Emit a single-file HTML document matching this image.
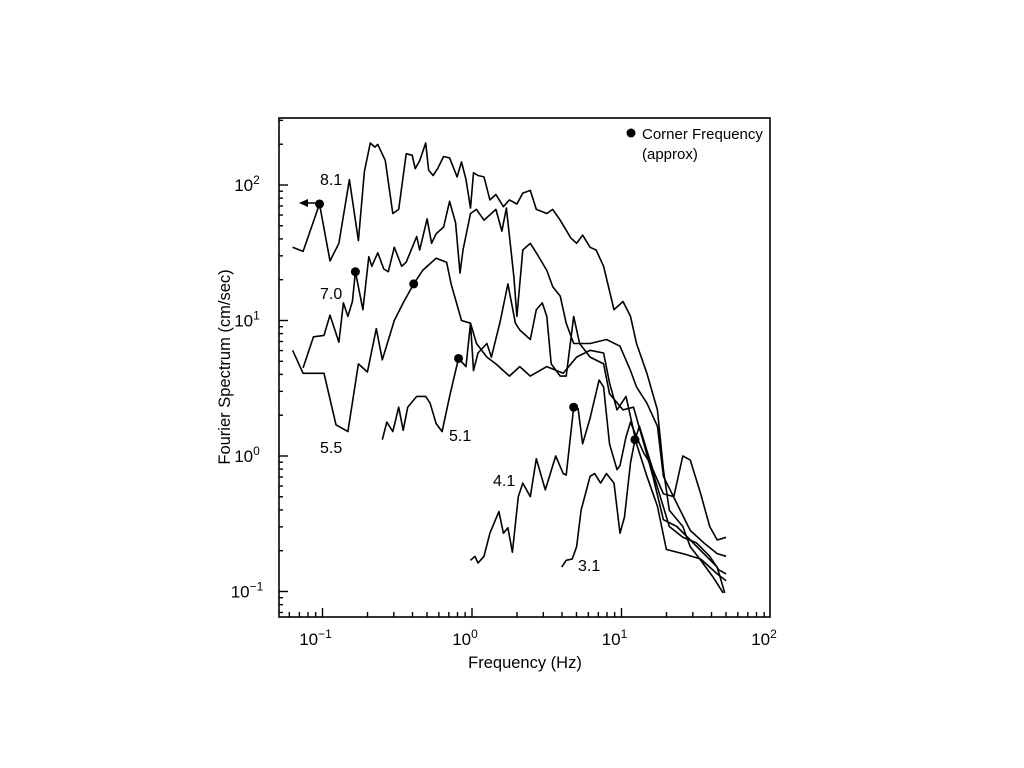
<!DOCTYPE html>
<html><head><meta charset="utf-8"><style>
html,body{margin:0;padding:0;background:#fff;}
svg{display:block;font-family:"Liberation Sans",sans-serif;}
</style></head><body>
<svg id="chart" width="1024" height="768" viewBox="0 0 1024 768" xmlns="http://www.w3.org/2000/svg">
<rect x="0" y="0" width="1024" height="768" fill="#fff"/>
<rect x="279" y="118" width="491" height="499" fill="none" stroke="#000" stroke-width="1.6"/>
<g id="ticks"></g>
<g id="series" fill="none" stroke="#000" stroke-width="1.6" stroke-linejoin="round"></g>
<g id="dots"></g>
<line x1="318" y1="203" x2="306" y2="203" stroke="#000" stroke-width="1.5"/>
<polygon points="299,203 308,199 308,207" fill="#000"/>
<text x="525" y="668" font-size="16.5" text-anchor="middle">Frequency (Hz)</text>
<text transform="translate(230,367) rotate(-90)" font-size="16.5" text-anchor="middle">Fourier Spectrum (cm/sec)</text>
<circle cx="631" cy="133" r="4.5" fill="#000"/>
<text x="642" y="139" font-size="15">Corner Frequency</text>
<text x="642" y="159" font-size="15">(approx)</text>
<text x="320" y="185" font-size="16">8.1</text>
<text x="320" y="299" font-size="16">7.0</text>
<text x="320" y="453" font-size="16">5.5</text>
<text x="449" y="441" font-size="16">5.1</text>
<text x="493" y="486" font-size="16">4.1</text>
<text x="578" y="571" font-size="16">3.1</text>
</svg>
<script>
// log10(frequency Hz) and log10(amplitude cm/sec) per magnitude
const logF81=[-1.20,-1.13,-1.02,-0.95,-0.89,-0.82,-0.76,-0.72,-0.68,-0.65,-0.63,-0.58,-0.53,-0.49,-0.44,-0.40,-0.38,-0.35,-0.31,-0.29,-0.26,-0.23,-0.19,-0.15,-0.10,-0.07,-0.04,-0.01,0.01,0.04,0.08,0.12,0.16,0.21,0.25,0.30,0.34,0.39,0.43,0.50,0.54,0.59,0.66,0.70,0.74,0.79,0.83,0.88,0.95,1.01,1.06,1.10,1.17,1.24,1.28,1.32,1.41,1.46,1.53,1.61,1.68];
const logA81=[1.54,1.51,1.86,1.44,1.57,2.04,1.59,2.10,2.31,2.28,2.30,2.18,1.79,1.82,2.23,2.22,2.12,2.18,2.31,2.11,2.07,2.12,2.21,2.20,2.06,2.17,2.04,1.83,2.09,2.07,2.06,1.89,1.93,1.84,1.89,1.86,1.94,1.96,1.82,1.79,1.82,1.74,1.61,1.57,1.63,1.54,1.52,1.40,1.08,1.14,1.03,0.83,0.61,0.34,-0.10,-0.40,-0.52,-0.67,-0.77,-0.89,-1.01];
const logF70=[-1.13,-1.06,-0.99,-0.95,-0.89,-0.86,-0.83,-0.80,-0.78,-0.73,-0.69,-0.67,-0.63,-0.59,-0.56,-0.52,-0.47,-0.44,-0.37,-0.35,-0.30,-0.27,-0.24,-0.19,-0.15,-0.11,-0.08,-0.06,-0.01,0.03,0.08,0.16,0.20,0.23,0.28,0.30,0.34,0.39,0.43,0.50,0.54,0.59,0.63,0.68,0.79,0.90,0.99,1.06,1.10,1.17,1.24,1.28,1.37,1.46,1.55,1.64,1.70];
const logA70=[0.65,0.88,0.89,1.04,0.84,1.13,1.03,1.14,1.36,1.08,1.47,1.40,1.50,1.38,1.36,1.54,1.40,1.43,1.62,1.52,1.75,1.57,1.64,1.69,1.88,1.72,1.35,1.52,1.79,1.82,1.74,1.82,1.66,1.83,1.32,1.03,1.52,1.57,1.50,1.37,1.25,1.18,0.98,0.83,0.83,0.86,0.81,0.63,0.51,0.39,0.22,-0.15,-0.35,-0.55,-0.64,-0.72,-0.74];
const logF55=[-1.20,-1.13,-0.99,-0.91,-0.83,-0.76,-0.70,-0.64,-0.60,-0.52,-0.46,-0.39,-0.33,-0.24,-0.17,-0.14,-0.07,-0.01,0.03,0.10,0.16,0.25,0.32,0.39,0.50,0.61,0.70,0.79,0.88,0.92,0.97,1.03,1.10,1.17,1.24,1.30,1.41,1.53,1.64,1.70];
const logA55=[0.78,0.61,0.61,0.23,0.18,0.68,0.62,0.94,0.71,1.00,1.13,1.27,1.37,1.46,1.43,1.27,1.00,0.98,0.83,0.73,0.68,0.59,0.66,0.59,0.66,0.61,0.73,0.78,0.76,0.54,0.34,0.44,0.09,-0.15,-0.37,-0.69,-0.72,-0.76,-0.87,-0.92];
const logF51=[-0.60,-0.57,-0.53,-0.49,-0.46,-0.43,-0.37,-0.31,-0.28,-0.24,-0.20,-0.15,-0.09,-0.04,-0.01,0.01,0.04,0.10,0.13,0.19,0.24,0.29,0.32,0.39,0.43,0.47,0.50,0.53,0.59,0.63,0.68,0.72,0.79,0.88,0.92,1.01,1.08,1.15,1.21,1.28,1.37,1.46,1.55,1.64,1.69];
const logA51=[0.12,0.25,0.18,0.36,0.19,0.36,0.44,0.44,0.39,0.24,0.18,0.44,0.72,0.66,0.98,0.63,0.76,0.83,0.73,1.00,1.27,0.98,0.93,0.86,1.08,1.13,1.03,0.68,0.59,0.59,1.03,0.83,0.73,0.68,0.46,0.34,0.36,0.09,-0.15,-0.47,-0.52,-0.62,-0.72,-0.82,-1.01];
const logF41=[-0.01,0.02,0.04,0.08,0.12,0.18,0.21,0.24,0.27,0.31,0.34,0.39,0.43,0.49,0.56,0.61,0.63,0.68,0.71,0.74,0.79,0.85,0.88,0.92,0.97,0.99,1.03,1.06,1.10,1.15,1.19,1.24,1.32,1.41,1.50,1.59,1.65,1.70];
const logA41=[-0.77,-0.74,-0.79,-0.74,-0.57,-0.41,-0.57,-0.53,-0.71,-0.30,-0.20,-0.30,-0.02,-0.25,0.00,-0.13,-0.14,0.36,0.35,0.09,0.28,0.56,0.51,0.09,-0.10,-0.07,0.14,0.25,0.14,0.02,-0.05,-0.23,-0.52,-0.60,-0.64,-0.74,-0.84,-0.87];
const logF31=[0.60,0.63,0.67,0.70,0.73,0.79,0.82,0.86,0.90,0.95,0.99,1.02,1.06,1.09,1.12,1.17,1.21,1.28,1.35,1.41,1.46,1.53,1.59,1.64,1.70];
const logA31=[-0.82,-0.77,-0.76,-0.67,-0.40,-0.15,-0.13,-0.20,-0.13,-0.20,-0.57,-0.45,-0.05,0.12,0.22,0.04,-0.10,-0.28,-0.30,0.00,-0.03,-0.28,-0.52,-0.62,-0.60];
const cornerNames=["8.1","7.0","5.5","5.1","4.1","3.1"];
const cornerLogF=[-1.02,-0.78,-0.39,-0.09,0.68,1.09];
const cornerLogA=[1.86,1.36,1.27,0.72,0.36,0.12];
const xDecades=[-1,0,1,2];
const yDecades=[-1,0,1,2];
const xTickLabels=["10","10","10","10"];
const xTickExp=["−1","0","1","2"];
const yTickExp=["−1","0","1","2"];

const NS="http://www.w3.org/2000/svg";
const X0=279,X1=770,Y0=118,Y1=617;
function xs(lf){return 472+149.5*lf;}
function ys(la){return 456-135.5*la;}
function mk(tag,attrs,parent){const e=document.createElementNS(NS,tag);for(const k in attrs)e.setAttribute(k,attrs[k]);parent.appendChild(e);return e;}

const ticks=document.getElementById('ticks');
for(let d=-2;d<=2;d++){
  for(let m=1;m<=9;m++){
    const lf=d+Math.log10(m);const x=xs(lf);
    if(x<X0+1||x>X1-1)continue;
    const len=m===1?9:5;
    const t=mk('line',{x1:x,y1:Y1,x2:x,y2:Y1-len,stroke:'#000','stroke-width':1.4},ticks);
    
    
  }
}
for(let d=-2;d<=3;d++){
  for(let m=1;m<=9;m++){
    const la=d+Math.log10(m);const y=ys(la);
    if(y<Y0+1||y>Y1-1)continue;
    const len=m===1?9:4;
    const t=mk('line',{x1:X0,y1:y,x2:X0+len,y2:y,stroke:'#000','stroke-width':1.4},ticks);
    
    
  }
}
xDecades.forEach((d,i)=>{
  const x=xs(d);
  const t=mk('text',{x:x-7,y:645,'font-size':17,'text-anchor':'middle'},ticks);
  
  
  t.textContent=xTickLabels[i];
  const s=mk('tspan',{dy:-7,'font-size':12},t);s.textContent=xTickExp[i];
});
yDecades.forEach((d,i)=>{
  const y=ys(d);
  const t=mk('text',{x:247,y:y+6,'font-size':17,'text-anchor':'middle'},ticks);
  
  
  t.textContent="10";
  const s=mk('tspan',{dy:-7,'font-size':12},t);s.textContent=yTickExp[i];
});

const series=document.getElementById('series');
const all=[["spectrum-m8-1",logF81,logA81],["spectrum-m7-0",logF70,logA70],["spectrum-m5-5",logF55,logA55],["spectrum-m5-1",logF51,logA51],["spectrum-m4-1",logF41,logA41],["spectrum-m3-1",logF31,logA31]];
all.forEach(([name,F,A])=>{
  const pts=F.map((f,i)=>xs(f).toFixed(1)+','+ys(A[i]).toFixed(1)).join(' ');
  const p=mk('polyline',{points:pts},series);
  
  
});
const dots=document.getElementById('dots');
cornerLogF.forEach((f,i)=>{
  const c=mk('circle',{cx:xs(f),cy:ys(cornerLogA[i]),r:4.5,fill:'#000'},dots);
  
  
});
</script>
</body></html>
